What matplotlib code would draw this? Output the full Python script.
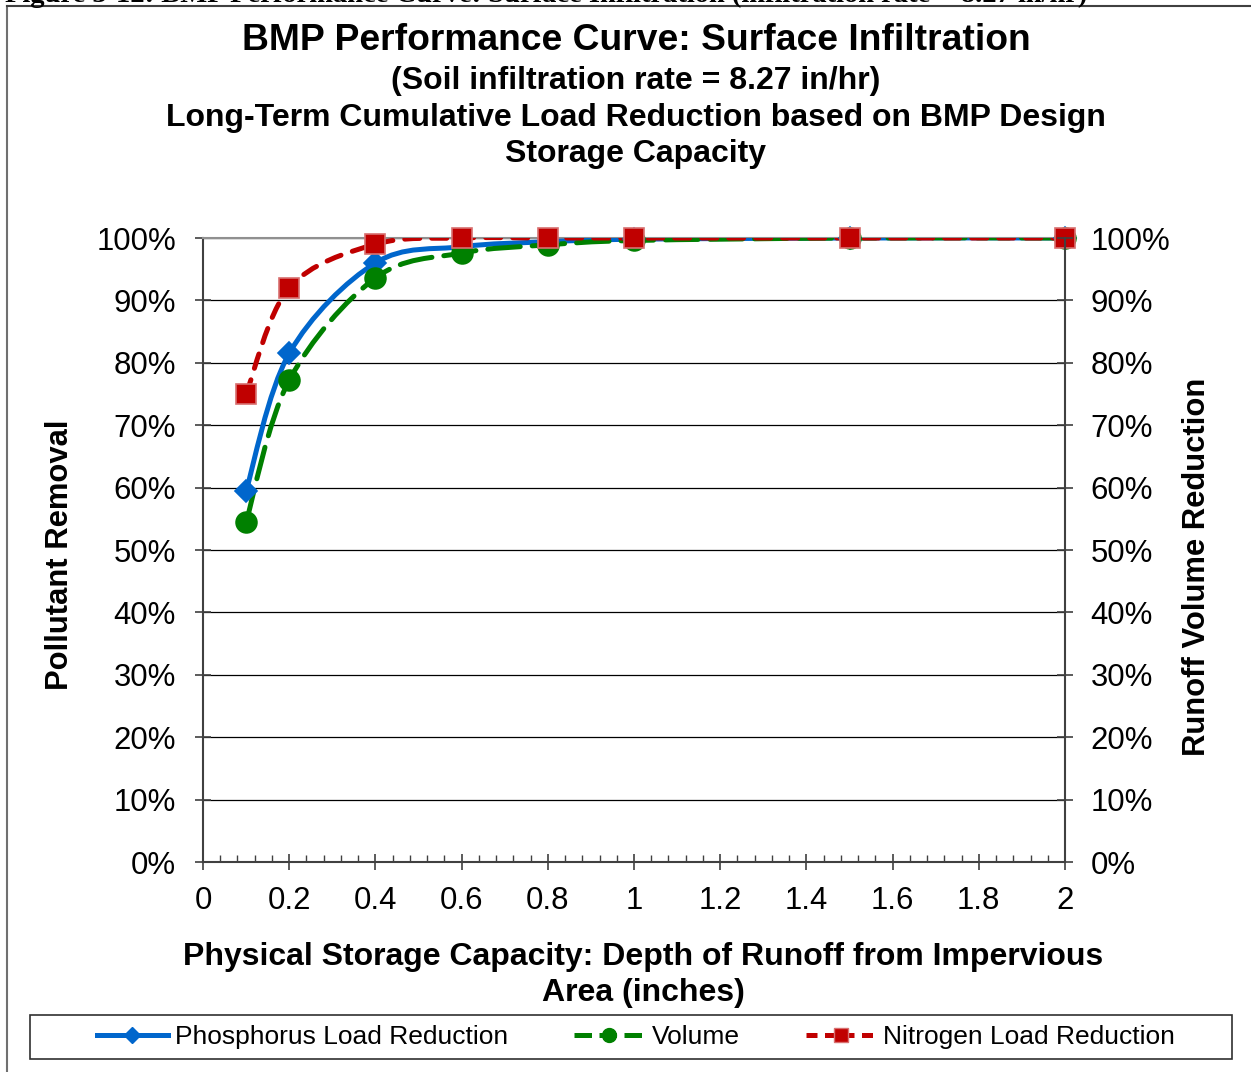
import numpy as np
import matplotlib
matplotlib.use("Agg")
import matplotlib.pyplot as plt
from matplotlib.path import Path
from matplotlib.patches import PathPatch, Rectangle
from matplotlib.lines import Line2D
from matplotlib.ticker import MultipleLocator, PercentFormatter

plt.rcParams['font.family'] = ['Liberation Sans', 'DejaVu Sans']

# Data
depth = [0.1, 0.2, 0.4, 0.6, 0.8, 1.0, 1.5, 2.0]
phosphorus = [59.5, 81.5, 96.0, 98.6, 99.4, 99.8, 100.0, 100.0]
volume = [54.5, 77.2, 93.6, 97.6, 98.9, 99.6, 100.0, 100.0]
nitrogen = [75.0, 92.0, 99.0, 100.0, 100.0, 100.0, 100.0, 100.0]

xticks = [0, 0.2, 0.4, 0.6, 0.8, 1, 1.2, 1.4, 1.6, 1.8, 2]
xticklabels = ['0', '0.2', '0.4', '0.6', '0.8', '1', '1.2', '1.4', '1.6', '1.8', '2']

BLUE = '#0066CC'
GREEN = '#008000'
RED = '#C00000'


def smooth_path(x, y):
    # Excel-style smoothed line: cubic Bezier through the points
    pts = np.column_stack([x, y]).astype(float)
    n = len(pts)
    verts = [pts[0]]
    codes = [Path.MOVETO]
    for i in range(n - 1):
        p0 = pts[i - 1] if i > 0 else pts[i]
        p1 = pts[i]
        p2 = pts[i + 1]
        p3 = pts[i + 2] if i + 2 < n else pts[i + 1]
        c1 = p1 + (p2 - p0) / 6.0
        c2 = p2 - (p3 - p1) / 6.0
        verts += [c1, c2, p2]
        codes += [Path.CURVE4] * 3
    return Path(verts, codes)


fig = plt.figure(figsize=(12.51, 10.72), dpi=100)
ax = fig.add_axes([203 / 1251, 1 - 862 / 1072, 862 / 1251, 624 / 1072])

ax.set_xlim(0, 2)
ax.set_ylim(0, 100)

green_dash = (0, (6.5, 2.4))
red_dash = (0, (3.0, 2.4))
series = [
    (phosphorus, BLUE, '-', 'D', 11, BLUE),
    (volume, GREEN, green_dash, 'o', 15, GREEN),
    (nitrogen, RED, red_dash, 's', 15, '#D87070'),
]
for vals, col, ls, mk, ms, mec in series:
    patch = PathPatch(smooth_path(depth, vals), fill=False, edgecolor=col, lw=3.6,
                      linestyle=ls, capstyle='round', zorder=3)
    ax.add_patch(patch)
    ax.plot(depth, vals, linestyle='none', marker=mk, ms=ms, color=col,
            mec=mec, mew=1.2, zorder=4, clip_on=False)

ax.grid(axis='y', color='black', lw=0.9)
ax.set_axisbelow(True)
ax.yaxis.set_major_locator(MultipleLocator(10))
ax.yaxis.set_major_formatter(PercentFormatter(decimals=0))
ax.set_xticks(xticks)
ax.set_xticklabels(xticklabels)
ax.xaxis.set_minor_locator(MultipleLocator(0.04))

for s in ['left', 'bottom']:
    ax.spines[s].set_color('#404040')
    ax.spines[s].set_linewidth(1.5)
ax.spines['top'].set_color('#909090')
ax.spines['top'].set_linewidth(1.5)
ax.spines['right'].set_visible(False)

ax.tick_params(axis='y', which='major', direction='inout', length=11, width=1.2,
               color='#404040', labelsize=22.4, pad=14)
ax.tick_params(axis='x', which='major', direction='inout', length=11, width=1.2,
               color='#404040', labelsize=22.4, pad=12)
ax.tick_params(axis='x', which='minor', direction='in', length=5, width=1, color='#404040')

ax2 = ax.twinx()
ax2.set_ylim(0, 100)
ax2.yaxis.set_major_locator(MultipleLocator(10))
ax2.yaxis.set_major_formatter(PercentFormatter(decimals=0))
ax2.tick_params(axis='y', which='major', direction='inout', length=11, width=1.2,
                color='#404040', labelsize=22.4, pad=13)
for s in ['left', 'top', 'bottom']:
    ax2.spines[s].set_visible(False)
ax2.spines['right'].set_color('#404040')
ax2.spines['right'].set_linewidth(1.5)

fig.text(60 / 1251, 1 - 555 / 1072, 'Pollutant Removal', rotation=90, ha='center',
         va='center', fontsize=22.3, fontweight='bold')
fig.text(1197 / 1251, 1 - 567 / 1072, 'Runoff Volume Reduction', rotation=90, ha='center',
         va='center', fontsize=22.3, fontweight='bold')

fig.text(636 / 1251, 1 - 41 / 1072, 'BMP Performance Curve: Surface Infiltration',
         ha='center', va='center', fontsize=26.8, fontweight='bold')
fig.text(636 / 1251, 1 - 81 / 1072, '(Soil infiltration rate = 8.27 in/hr)',
         ha='center', va='center', fontsize=23, fontweight='bold')
fig.text(636 / 1251, 1 - 118 / 1072, 'Long-Term Cumulative Load Reduction based on BMP Design',
         ha='center', va='center', fontsize=23, fontweight='bold')
fig.text(636 / 1251, 1 - 154 / 1072, 'Storage Capacity',
         ha='center', va='center', fontsize=23, fontweight='bold')

fig.text(643 / 1251, 1 - 957 / 1072, 'Physical Storage Capacity: Depth of Runoff from Impervious',
         ha='center', va='center', fontsize=23, fontweight='bold')
fig.text(643 / 1251, 1 - 993 / 1072, 'Area (inches)',
         ha='center', va='center', fontsize=23, fontweight='bold')

# cropped caption at the very top of the page
fig.text(5 / 1251, 1 - 2 / 1072,
         'Figure 3-12: BMP Performance Curve: Surface Infiltration (infiltration rate = 8.27 in/hr)',
         ha='left', va='baseline', fontsize=20.5, fontweight='bold', family='Liberation Serif')

# outer chart frame (left and top edges visible)
fig.add_artist(Line2D([7 / 1251, 7 / 1251], [-0.01, 1 - 6 / 1072], color='#707070', lw=1.5))
fig.add_artist(Line2D([7 / 1251, 1.01], [1 - 6 / 1072, 1 - 6 / 1072], color='#404040', lw=1.5))

# legend box
fig.add_artist(Rectangle((30 / 1251, 1 - 1059 / 1072), 1202 / 1251, 44 / 1072,
                         transform=fig.transFigure, fill=False, edgecolor='#303030', lw=1.2))

handles = [
    Line2D([], [], color=BLUE, lw=3.6, marker='D', ms=8, mec=BLUE),
    Line2D([], [], color=GREEN, lw=3.6, ls=(0, (3.5, 1.5)), marker='o', ms=10, mec=GREEN),
    Line2D([], [], color=RED, lw=3.6, ls=(0, (2.2, 1.5)), marker='s', ms=10, mec='#D87070'),
]
labels = ['Phosphorus Load Reduction', 'Volume', 'Nitrogen Load Reduction']
leg = fig.legend(handles, labels, loc='center', ncol=3, fontsize=19,
                 bbox_to_anchor=(636 / 1251, 1 - 1037 / 1072), frameon=False,
                 handlelength=2.7, handletextpad=0.25, columnspacing=2.5, borderpad=0.2)

fig.savefig('out.png', dpi=100)
